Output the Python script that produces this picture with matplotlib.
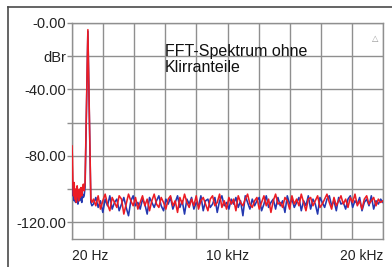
import numpy as np
import matplotlib
matplotlib.use("Agg")
import matplotlib.pyplot as plt
from matplotlib.lines import Line2D

plt.rcParams['font.family'] = ['Liberation Sans', 'DejaVu Sans']

# ---- data ----
low_freq = [20, 50, 80, 120, 160, 200, 250, 300, 350, 400, 450, 500, 550, 600,
            650, 700, 750, 800, 860, 1040, 1230, 1300]
red_low = [-74, -82, -98, -104, -96, -106, -100, -108, -98, -103, -107, -100,
           -105, -99, -104, -100, -97, -101, -96, -4, -106, -108]
blue_low = [-78, -95, -104, -100, -107, -103, -108, -102, -106, -109, -104,
            -107, -102, -106, -108, -103, -105, -104, -99, -5, -108, -110]

floor_freq = np.arange(1400, 20001, 150)
red_floor = [
    -106, -110, -104, -112, -107, -103, -109, -113, -105, -108,
    -111, -104, -106, -115, -109, -103, -107, -110, -105, -112,
    -108, -104, -110, -106, -113, -107, -103, -109, -111, -105,
    -108, -112, -106, -104, -110, -107, -114, -105, -109, -103,
    -108, -111, -106, -110, -104, -112, -107, -105, -109, -113,
    -106, -104, -110, -108, -103, -111, -107, -112, -105, -109,
    -106, -113, -104, -108, -110, -106, -103, -109, -111, -107,
    -105, -112, -108, -104, -110, -106, -114, -107, -103, -109,
    -108, -111, -105, -107, -112, -104, -109, -106, -110, -103,
    -108, -113, -106, -105, -110, -107, -104, -111, -109, -106,
    -103, -108, -112, -105, -110, -107, -104, -109, -106, -111,
    -105, -108, -103, -110, -107, -112, -106, -104, -109, -107,
    -105, -110, -106, -108, -107]
blue_floor = [
    -109, -105, -111, -107, -114, -106, -110, -104, -112, -108,
    -106, -113, -109, -105, -111, -116, -107, -104, -110, -108,
    -112, -106, -109, -115, -105, -108, -111, -107, -104, -110,
    -113, -106, -109, -105, -112, -108, -104, -111, -107, -115,
    -106, -109, -105, -112, -108, -110, -104, -113, -107, -106,
    -111, -109, -105, -114, -107, -104, -110, -108, -112, -106,
    -109, -105, -111, -107, -116, -104, -108, -112, -106, -110,
    -107, -105, -113, -109, -104, -111, -108, -106, -112, -105,
    -110, -107, -114, -104, -109, -106, -111, -108, -105, -113,
    -107, -110, -104, -112, -106, -109, -115, -105, -108, -111,
    -106, -104, -110, -107, -113, -105, -109, -108, -112, -106,
    -104, -111, -107, -109, -105, -113, -108, -106, -110, -104,
    -112, -107, -109, -106, -108]

y_ticks = [0, -20, -40, -60, -80, -100, -120]
y_labels = ['-0.00', 'dBr', '-40.00', '', '-80.00', '', '-120.00']
x_tick_vals = [20, 10000, 20000]
x_tick_labels = ['20 Hz', '10 kHz', '20 kHz']
note = 'FFT-Spektrum ohne\nKlirranteile'

freq = np.concatenate([low_freq, floor_freq])
red = np.concatenate([red_low, red_floor])
blue = np.concatenate([blue_low, blue_floor])

# ---- figure ----
W, H = 392, 267
fig = plt.figure(figsize=(W / 100, H / 100), dpi=100)
ax = fig.add_axes([72 / W, 1 - 239 / H, (383 - 72) / W, (239 - 23) / H])

grid_c = '#8f8f8f'
ax.plot(freq, blue, color='#2438b0', lw=1.15, zorder=3)
ax.plot(freq, red, color='#ec1c24', lw=1.15, zorder=4)

ax.set_xlim(20, 20000)
ax.set_ylim(-130, 0)
for xv in np.linspace(20, 20000, 11):
    ax.axvline(xv, color=grid_c, lw=1.0, zorder=1)
ax.set_yticks(y_ticks)
ax.set_yticklabels(y_labels, fontsize=10.5, color='#222222')
ax.yaxis.grid(True, color=grid_c, lw=1.0, zorder=1)
ax.tick_params(axis='y', length=3.5, width=1.0, color=grid_c, pad=0.5)

ax.set_xticks(x_tick_vals)
ax.set_xticklabels(x_tick_labels, fontsize=10, color='#222222')
ax.tick_params(axis='x', length=0, pad=7)
labs = ax.get_xticklabels()
labs[0].set_horizontalalignment('left')
labs[2].set_horizontalalignment('right')

for s in ax.spines.values():
    s.set_color(grid_c)
    s.set_linewidth(1.0)

ax.text((165 - 72) / 311, 1 - (44 - 23) / 216, note, transform=ax.transAxes,
        fontsize=11.5, va='top', ha='left', linespacing=1.05, color='#111111')
ax.text((375 - 72) / 311, 1 - (38 - 23) / 216, '△', transform=ax.transAxes,
        fontsize=6, va='center', ha='center', color='#999999',
        family=['DejaVu Sans'])

# outer frame (left and top edges)
fig.add_artist(Line2D([8 / W, 8 / W], [0, 1 - 7 / H], color='#4a4a4a', lw=1.2,
                      transform=fig.transFigure))
fig.add_artist(Line2D([8 / W, 1], [1 - 7 / H, 1 - 7 / H], color='#4a4a4a', lw=1.2,
                      transform=fig.transFigure))

fig.savefig('out.png', dpi=100)
